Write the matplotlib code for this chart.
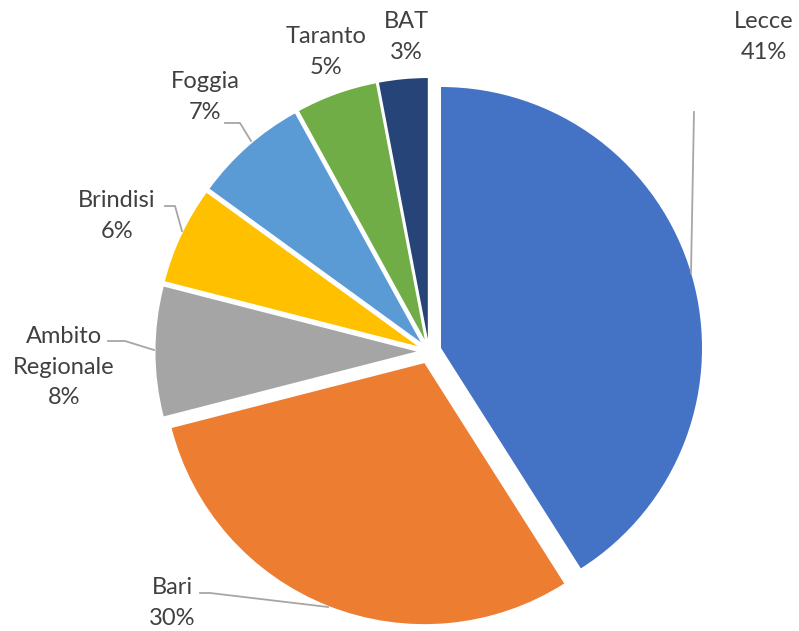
import matplotlib.pyplot as plt

# Quote per ambito (percentuali)
labels = ["Lecce", "Bari", "Ambito\nRegionale", "Brindisi", "Foggia", "Taranto", "BAT"]
values = [41, 30, 8, 6, 7, 5, 3]
colors = ["#4472C4", "#ED7D31", "#A5A5A5", "#FFC000", "#5B9BD5", "#70AD47", "#264478"]

W, H = 799, 631


def px(x, y):
    # coordinate in pixel (origine in alto a sinistra)
    return x, H - y


fig = plt.figure(figsize=(W / 100, H / 100), dpi=100)
ax = fig.add_axes([0, 0, 1, 1])

ax.pie(values, colors=colors, startangle=90, counterclock=False,
       radius=261, center=px(429, 351.5), explode=[12.5] * len(values),
       wedgeprops=dict(linewidth=0), frame=True)
ax.set_xlim(0, W)
ax.set_ylim(0, H)
ax.set_aspect("equal")
ax.axis("off")

# posizioni etichette e linee guida
label_pos = [(764, 37), (172, 603), (64, 367), (117, 216), (205, 97), (326, 52), (406, 37)]
leaders = {
    "Lecce": [(694, 112), (691, 273)],
    "Bari": [(200, 593), (210, 593), (328, 607)],
    "Ambito\nRegionale": [(108, 341), (125, 341), (154, 350)],
    "Brindisi": [(165, 206), (175, 206), (182, 231)],
    "Foggia": [(225, 123), (240, 123), (251, 141)],
}

for lab, v, (x, y) in zip(labels, values, label_pos):
    ax.text(*px(x, y), f"{lab}\n{v}%", ha="center", va="center",
            fontsize=17, family="Lato", color="#404040", linespacing=1.55)
    if lab in leaders:
        pts = [px(a, b) for a, b in leaders[lab]]
        ax.plot([p[0] for p in pts], [p[1] for p in pts], color="#A6A6A6", lw=1.3)

fig.savefig("out.png", dpi=100)
